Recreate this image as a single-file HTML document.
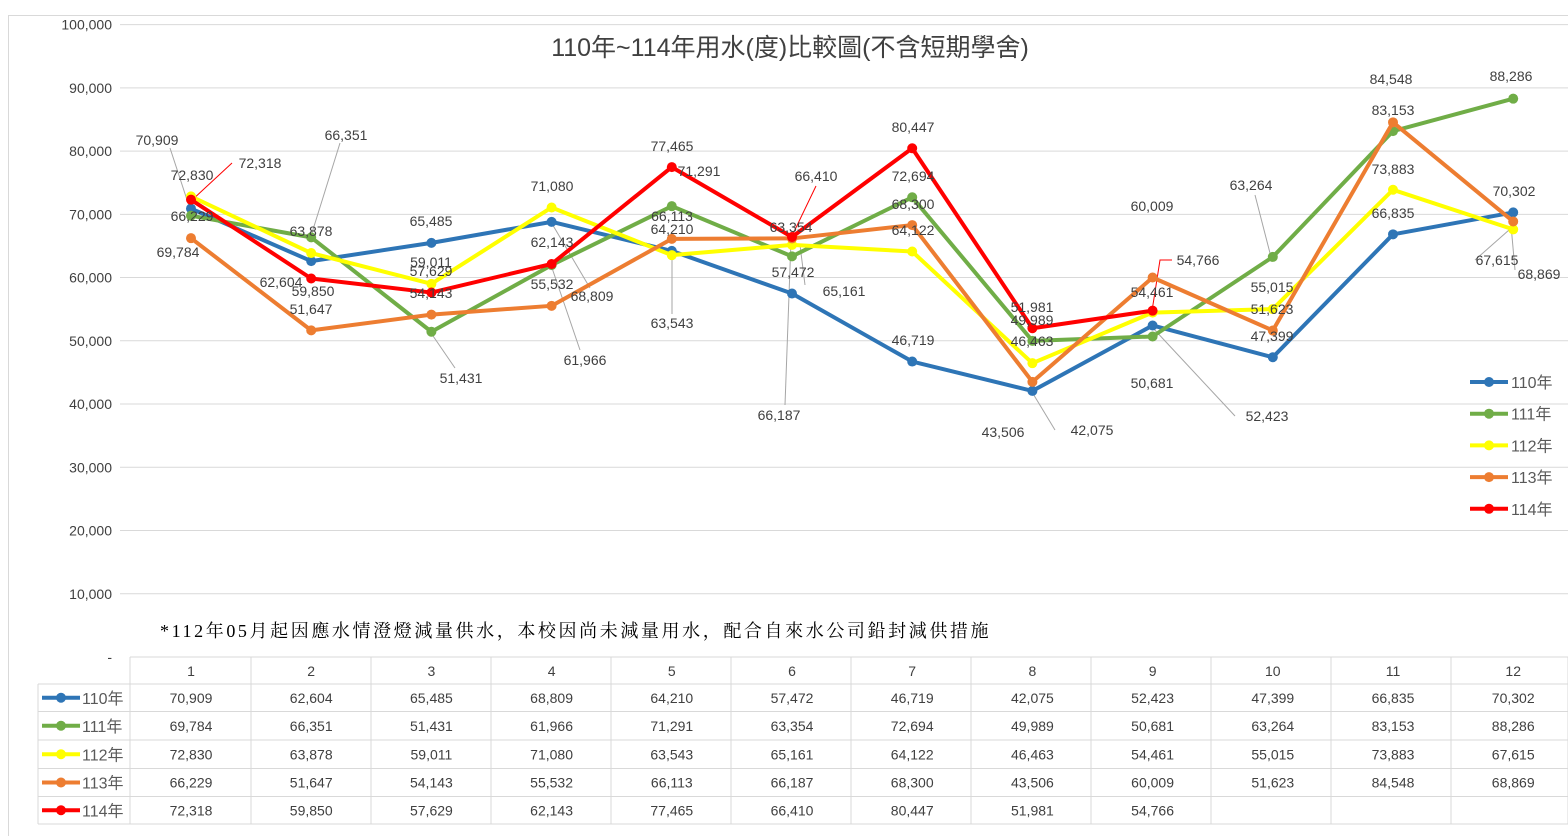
<!DOCTYPE html>
<html><head><meta charset="utf-8">
<style>
html,body{margin:0;padding:0;background:#fff;width:1568px;height:836px;overflow:hidden}
svg text{font-family:"Liberation Sans","Noto Sans CJK TC",sans-serif}
</style></head>
<body>
<svg id="s" width="1568" height="836" xmlns="http://www.w3.org/2000/svg"></svg>
<script>
const s=document.getElementById('s');
let h='';
const Y=v=>657-v*0.006324;
const X=m=>191+(m-1)*120.2;
h+='<rect x="8.5" y="15.5" width="1570" height="830" fill="none" stroke="#d9d9d9"/>';
for(let i=0;i<=10;i++){const y=Y(i*10000);
 if(i>0) h+=`<line x1="120" x2="1568" y1="${y}" y2="${y}" stroke="#d9d9d9"/>`;
 h+=`<text x="112" y="${y+5}" text-anchor="end" font-size="14" fill="#404040">${i==0?'-':(i*10000).toLocaleString('en-US')}</text>`;}
h+='<text x="790" y="56" text-anchor="middle" font-size="25" fill="#404040">110年~114年用水(度)比較圖(不含短期學舍)</text>';
h+='<text x="160" y="637" font-size="18" fill="#000" style="font-family:\'Liberation Serif\',\'Noto Serif CJK SC\',serif;letter-spacing:2.6px">*112年05月起因應水情澄燈減量供水，本校因尚未減量用水，配合自來水公司鉛封減供措施</text>';
const D=[
['110年','#2e75b6',[70909,62604,65485,68809,64210,57472,46719,42075,52423,47399,66835,70302]],
['111年','#70ad47',[69784,66351,51431,61966,71291,63354,72694,49989,50681,63264,83153,88286]],
['112年','#ffff00',[72830,63878,59011,71080,63543,65161,64122,46463,54461,55015,73883,67615]],
['113年','#ed7d31',[66229,51647,54143,55532,66113,66187,68300,43506,60009,51623,84548,68869]],
['114年','#ff0000',[72318,59850,57629,62143,77465,66410,80447,51981,54766]]];
const L=[[[170,148],[191,212]],[[232,163],[191,201],1],[[340,143],[311,236]],[[455,368],[431,333]],[[590,288],[551,222]],[[580,350],[551,265]],[[672,314],[672,256]],[[816,186],[791,238],1],[[805,285],[800,245]],[[785,405],[791,240]],[[1055,430],[1032,392]],[[1172,260],[1160,260],[1152,311],1],[[1235,416],[1152,327]],[[1255,195],[1271,257]],[[1475,260],[1509,230]],[[1515,270],[1511,225]]];
L.forEach(l=>{const c=typeof l[l.length-1]==='number';const pts=(c?l.slice(0,-1):l).map(p=>p.join(',')).join(' ');h+=`<polyline points="${pts}" fill="none" stroke="${c?'#ff0000':'#a6a6a6'}"/>`});
D.forEach(d=>{const p=d[2].map((v,i)=>X(i+1)+','+Y(v)).join(' ');
 h+=`<polyline points="${p}" fill="none" stroke="${d[1]}" stroke-width="4" stroke-linejoin="round"/>`;
 d[2].forEach((v,i)=>h+=`<circle cx="${X(i+1)}" cy="${Y(v)}" r="5" fill="${d[1]}"/>`);});
const T=[['70,909',157,140],['72,830',192,175],['72,318',260,163],['66,229',192,216],['69,784',178,252],['66,351',346,135],['63,878',311,231],['62,604',281,282],['59,850',313,291],['51,647',311,309],['65,485',431,221],['59,011',431,262],['57,629',431,271],['54,143',431,293],['51,431',461,378],['71,080',552,186],['62,143',552,242],['55,532',552,284],['68,809',592,296],['61,966',585,360],['77,465',672,146],['71,291',699,171],['66,113',672,216],['64,210',672,229],['63,543',672,323],['66,410',816,176],['63,354',791,227],['57,472',793,272],['65,161',844,291],['66,187',779,415],['80,447',913,127],['72,694',913,176],['68,300',913,204],['64,122',913,230],['46,719',913,340],['51,981',1032,307],['49,989',1032,320],['46,463',1032,341],['43,506',1003,432],['42,075',1092,430],['60,009',1152,206],['54,766',1198,260],['54,461',1152,292],['50,681',1152,383],['52,423',1267,416],['63,264',1251,185],['55,015',1272,287],['51,623',1272,309],['47,399',1272,336],['84,548',1391,79],['83,153',1393,110],['73,883',1393,169],['66,835',1393,213],['88,286',1511,76],['70,302',1514,191],['67,615',1497,260],['68,869',1539,274]];
T.forEach(t=>h+=`<text x="${t[1]}" y="${t[2]+5}" text-anchor="middle" font-size="14" fill="#404040">${t[0]}</text>`);
D.forEach((d,i)=>{const y=382+i*31.7;
 h+=`<line x1="1470" x2="1508" y1="${y}" y2="${y}" stroke="${d[1]}" stroke-width="4"/><circle cx="1489" cy="${y}" r="5" fill="${d[1]}"/>`;
 h+=`<text x="1511" y="${y+6}" font-size="16" fill="#595959">${d[0]}</text>`;});
const cb=[130,251,371,491,611,731,851,971,1091,1211,1331,1451,1568];
const rb=[657,684,711.5,740,768.5,796.5,824];
rb.forEach((y,i)=>h+=`<line x1="${i==0?130:38}" x2="1568" y1="${y}" y2="${y}" stroke="#d9d9d9"/>`);
cb.forEach(x=>h+=`<line x1="${x}" x2="${x}" y1="657" y2="824" stroke="#d9d9d9"/>`);
h+=`<line x1="38" x2="38" y1="684" y2="824" stroke="#d9d9d9"/>`;
for(let m=1;m<=12;m++) h+=`<text x="${X(m)}" y="676" text-anchor="middle" font-size="14" fill="#404040">${m}</text>`;
D.forEach((d,i)=>{const yc=(rb[i+1]+rb[i+2])/2;
 h+=`<line x1="42" x2="80" y1="${yc}" y2="${yc}" stroke="${d[1]}" stroke-width="4"/><circle cx="61" cy="${yc}" r="5" fill="${d[1]}"/>`;
 h+=`<text x="82" y="${yc+6}" font-size="16" fill="#595959">${d[0]}</text>`;
 d[2].forEach((v,j)=>h+=`<text x="${X(j+1)}" y="${yc+5}" text-anchor="middle" font-size="14" fill="#404040">${v.toLocaleString('en-US')}</text>`);});
s.innerHTML=h;
</script>
</body></html>
